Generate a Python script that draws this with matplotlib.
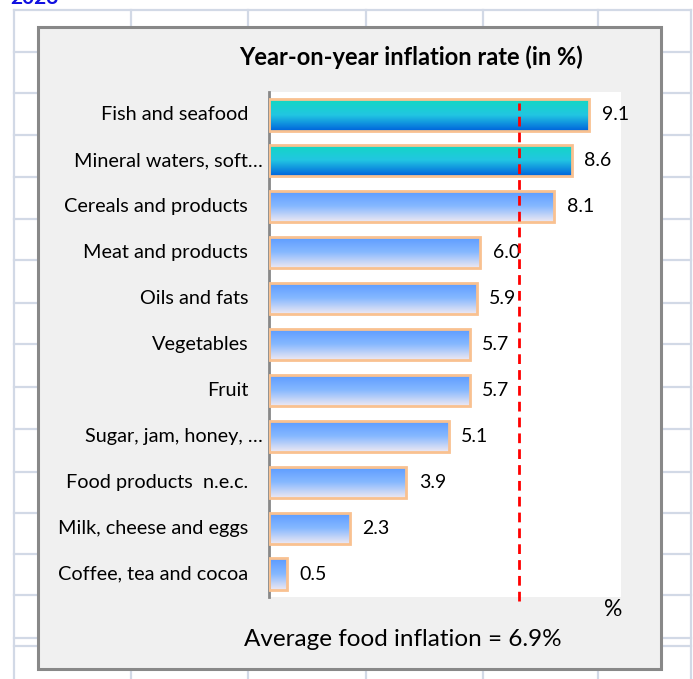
import numpy as np
import matplotlib
matplotlib.use('Agg')
import matplotlib.pyplot as plt
from matplotlib.colors import LinearSegmentedColormap

plt.rcParams['font.family'] = ['Lato', 'DejaVu Sans']

# data
categories = ['Fish and seafood', 'Mineral waters, soft…', 'Cereals and products',
              'Meat and products', 'Oils and fats', 'Vegetables', 'Fruit',
              'Sugar, jam, honey, …', 'Food products  n.e.c.',
              'Milk, cheese and eggs', 'Coffee, tea and cocoa']
values = [9.1, 8.6, 8.1, 6.0, 5.9, 5.7, 5.7, 5.1, 3.9, 2.3, 0.5]
highlighted = [True, True, False, False, False, False, False, False, False, False, False]
avg_line = 7.1
avg_food = 6.9
title = 'Year-on-year inflation rate (in %)'
sheet_label = '2023'

W, H = 693, 679
teal = LinearSegmentedColormap.from_list('teal', ['#12d8c2', '#22c6e2', '#0064dc'])
light = LinearSegmentedColormap.from_list('light', ['#5a9aff', '#86b8ff', '#eee8f2'])


def draw_sheet(fig):
    # spreadsheet background, grid and the chart frame, in pixel coords
    bg = fig.add_axes([0, 0, 1, 1])
    bg.set_xlim(0, W)
    bg.set_ylim(H, 0)
    bg.axis('off')
    grid = '#d2d9e6'
    for y in [10, 52, 93, 135, 177, 219, 260, 303, 344, 387, 429, 472, 513, 554, 595, 638, 646]:
        bg.plot([14, 691], [y, y], color=grid, lw=1.6, zorder=1)
    for x in [14, 131, 248, 366, 483, 598, 691]:
        bg.plot([x, x], [10, H], color=grid, lw=1.6, zorder=1)
    bg.add_patch(plt.Rectangle((38, 26.5), 623, 642, facecolor='#f0f0f0',
                               edgecolor='#888888', lw=2.2, zorder=2))
    # sheet heading, mostly scrolled out of view like in the screenshot
    bg.text(10, 4, sheet_label, color='#1010e0', fontsize=15, fontweight='bold',
            ha='left', va='baseline', zorder=3)
    bg.text(411, 57, title, fontsize=17, fontweight='bold', ha='center', va='center', zorder=3)
    bg.text(613, 610, '%', fontsize=16.5, ha='center', va='center', zorder=3)
    bg.text(403, 640, 'Average food inflation = %.1f%%' % avg_food, fontsize=17.5,
            ha='center', va='center', zorder=3)


def draw_bars(fig):
    ax = fig.add_axes([269 / W, 1 - 597 / H, 352 / W, 505 / H])
    ax.set_facecolor('white')
    ypos = np.arange(len(values))
    h = 0.68
    bars = ax.barh(ypos, values, height=h, facecolor='none', edgecolor='#f9c190',
                   linewidth=2.0, zorder=3)
    grad = np.linspace(0, 1, 64).reshape(-1, 1)
    for bar, v, y, hi in zip(bars, values, ypos, highlighted):
        cmap = teal if hi else light
        im = ax.imshow(grad, cmap=cmap, extent=(0, v, y + h / 2, y - h / 2),
                       origin='upper', aspect='auto', interpolation='bicubic', zorder=2)
        im.set_clip_path(bar)
        ax.annotate('%.1f' % v, xy=(v, y), xytext=(9, 0), textcoords='offset points',
                    ha='left', va='center', fontsize=14)
    for y, name in zip(ypos, categories):
        off = -4.5 if name.endswith('…') else -15
        ax.annotate(name, xy=(0, y), xycoords=ax.get_yaxis_transform(),
                    xytext=(off, 0), textcoords='offset points',
                    ha='right', va='center', fontsize=14.3, annotation_clip=False)
    ax.axvline(avg_line, ymin=-0.008, ymax=0.978, color='#ff0000', lw=2.0,
               dashes=(3.5, 2.2), clip_on=False, zorder=4)
    ax.set_xlim(0, 10)
    ax.set_ylim(len(values) - 0.5, -0.5)
    ax.set_xticks([])
    ax.set_yticks([])
    for side in ['top', 'right', 'bottom']:
        ax.spines[side].set_visible(False)
    ax.spines['left'].set_color('#888888')
    ax.spines['left'].set_linewidth(2.0)


def main():
    fig = plt.figure(figsize=(W / 100, H / 100), dpi=100)
    draw_sheet(fig)
    draw_bars(fig)
    fig.savefig('out.png', dpi=100)


if __name__ == '__main__':
    main()
